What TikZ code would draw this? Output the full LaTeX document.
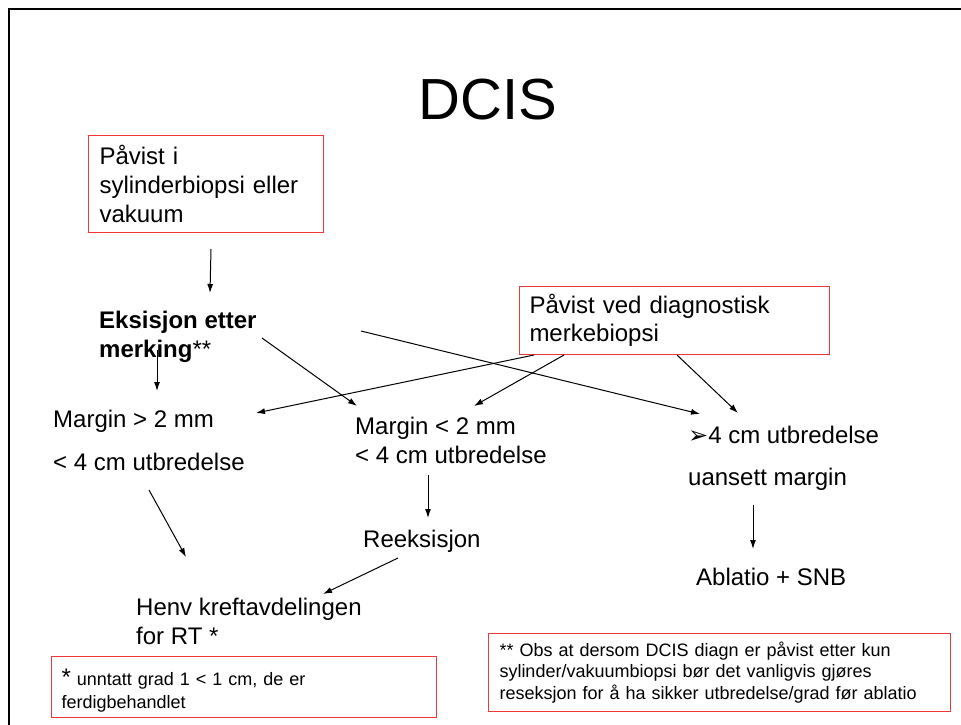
\documentclass[tikz,border=0pt]{standalone}
\usepackage{fontspec}
\setmainfont{Liberation Sans}
\newfontfamily\dingfont{DejaVu Sans}
\usetikzlibrary{arrows.meta, calc}
\tikzset{>={Latex[length=9pt,width=6pt]}}
\definecolor{boxred}{RGB}{236,56,56}

\begin{document}
\begin{tikzpicture}[x=1pt, y=-1pt,
    txt/.style = {inner sep=0pt, anchor=base west, align=left, font=\fontsize{24}{29}\selectfont},
    redbox/.style = {draw=boxred, line width=1pt, anchor=north west, align=left, inner ysep=0pt},
    flow/.style = {->, black, line width=1pt}]

    \useasboundingbox (0,0) rectangle (961,725);

    % frame
    \draw[line width=2.2pt] (9,725) -- (9,9) -- (961,9);

    \node[anchor=base, inner sep=0pt, font=\fontsize{58}{58}\selectfont] (title) at (488,119) {DCIS};

    % red boxes
    \node[redbox, text width=213pt, inner xsep=11pt, minimum height=97pt,
        font=\fontsize{24}{29}\selectfont] (cyl) at (88,135) {Påvist i\\sylinderbiopsi eller\\vakuum};
    \node[redbox, text width=290pt, inner xsep=10pt, minimum height=68pt,
        font=\fontsize{24}{28}\selectfont] (merk) at (519,286) {Påvist ved diagnostisk\\merkebiopsi};
    \node[redbox, text width=365pt, inner xsep=10pt, minimum height=61pt,
        font=\fontsize{18}{23}\selectfont] (fn1) at (51,656) {\rule{0pt}{24pt}{\fontsize{24}{23}\selectfont *} unntatt grad 1 < 1 cm, de er\\ferdigbehandlet};
    \node[redbox, text width=440pt, inner xsep=11pt, minimum height=78pt,
        font=\fontsize{18}{21.5}\selectfont] (fn2) at (488,633) {** Obs at dersom DCIS diagn er påvist etter kun\\sylinder/vakuumbiopsi bør det vanligvis gjøres\\reseksjon for å ha sikker utbredelse/grad før ablatio};

    % plain texts (base = last line)
    \node[txt] (eks) at (99,357) {\textbf{Eksisjon etter}\\\textbf{merking}**};
    \node[txt] (mg) at (53,470) {Margin > 2 mm\\[14pt]< 4 cm utbredelse};
    \node[txt] (ml) at (355,463) {Margin < 2 mm\\< 4 cm utbredelse};
    \node[txt] (big) at (688,485) {{\dingfont ➢}4 cm utbredelse\\[13pt]uansett margin};
    \node[txt] (reeks) at (363,547) {Reeksisjon};
    \node[txt] (henv) at (136,644) {Henv kreftavdelingen\\for RT *};
    \node[txt] (abl) at (696,585) {Ablatio + SNB};

    % arrows
    \draw[flow] ($(cyl.south)+(5,16)$) -- ($(eks.base west)+(111,-64)$);
    \draw[flow] ($(eks.base west)+(58,-7)$) -- ($(mg.base west)+(104,-79)$);
    \draw[flow] ($(eks.base west)+(163,-19)$) -- ($(ml.base west)+(2,-57)$);
    \draw[flow] ($(eks.base west)+(262,-26)$) -- ($(big.base west)+(12,-71)$);
    \draw[flow] ($(merk.south west)+(15,0)$) -- ($(mg.base west)+(203,-57)$);
    \draw[flow] ($(merk.south west)+(45,0)$) -- ($(ml.base west)+(119,-57)$);
    \draw[flow] ($(merk.south west)+(158,0)$) -- ($(big.base west)+(50,-72)$);
    \draw[flow] ($(mg.base west)+(96,20)$) -- ($(henv.base west)+(50,-87)$);
    \draw[flow] ($(ml.base west)+(73,12)$) -- ($(reeks.base west)+(65,-29)$);
    \draw[flow] ($(reeks.base west)+(35,11)$) -- ($(henv.base west)+(187,-50)$);
    \draw[flow] ($(big.base west)+(65,20)$) -- ($(abl.base west)+(57,-36)$);

\end{tikzpicture}
\end{document}
